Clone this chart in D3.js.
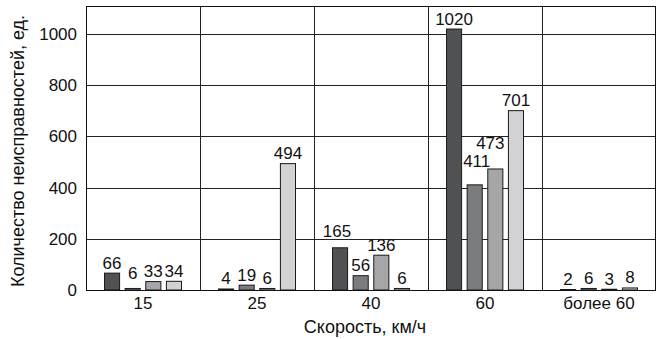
<!DOCTYPE html>
<html><head><meta charset="utf-8">
<script src="https://cdn.jsdelivr.net/npm/d3@7"></script>
<style>html,body{margin:0;padding:0;background:#fff;}svg{display:block;}</style>
</head><body>
<svg id="c" width="660" height="339"></svg>
<script>
const categories = ["15", "25", "40", "60", "более 60"];
const series1 = [66, 4, 165, 1020, 2];
const series2 = [6, 19, 56, 411, 6];
const series3 = [33, 6, 136, 473, 3];
const series4 = [34, 494, 6, 701, 8];
const yTicks = [0, 200, 400, 600, 800, 1000];
const yTitle = "Количество неисправностей, ед.";
const xTitle = "Скорость, км/ч";

const seriesList = [series1, series2, series3, series4];
const colors = ["#505153", "#7b7c7f", "#a5a6a8", "#d1d2d4"];
// manual label nudges (dx, dy) as in the reference: key "cat-series"
const nudges = {"0-1": [0, -5], "2-0": [-3, -6], "3-1": [2, -13], "3-2": [-5, -15]};

const m = {left: 86, right: 656, top: 6, bottom: 290};
const svg = d3.select("#c");
const font = "'Liberation Sans', Arial, sans-serif";
const ink = "#111";

const x0 = d3.scaleBand().domain(categories).range([m.left, m.right]).padding(0);
const x1 = d3.scaleBand().domain(d3.range(4)).range([-39, 39]).paddingInner(0.22);
const y = d3.scaleLinear().domain([0, 1110]).range([m.bottom, m.top]);

// grid
const g = svg.append("g");
g.selectAll("line.h").data(yTicks.filter(d => d > 0)).join("line")
  .attr("x1", m.left).attr("x2", m.right)
  .attr("y1", d => Math.round(y(d)) + 0.5).attr("y2", d => Math.round(y(d)) + 0.5)
  .attr("stroke", "#222").attr("stroke-width", 1);
g.selectAll("line.v").data(categories.slice(1)).join("line")
  .attr("x1", d => Math.round(x0(d)) + 0.5).attr("x2", d => Math.round(x0(d)) + 0.5)
  .attr("y1", m.top).attr("y2", m.bottom)
  .attr("stroke", "#222").attr("stroke-width", 1);
svg.append("rect").attr("x", m.left + 0.5).attr("y", m.top + 0.5)
  .attr("width", m.right - m.left - 1).attr("height", m.bottom - m.top)
  .attr("fill", "none").attr("stroke", "#111").attr("stroke-width", 1);

// bars
const cells = [];
categories.forEach((c, ci) => seriesList.forEach((s, si) => cells.push({c, ci, si, v: s[ci]})));
const cx = d => x0(d.c) + x0.bandwidth() / 2 + x1(d.si);
svg.append("g").selectAll("rect").data(cells).join("rect")
  .attr("x", d => cx(d) + 0.5)
  .attr("y", d => y(d.v))
  .attr("width", x1.bandwidth() - 1)
  .attr("height", d => Math.max(1, y(0) - y(d.v)))
  .attr("fill", d => colors[d.si])
  .attr("stroke", "#1a1a1a").attr("stroke-width", 1);

// labels
svg.append("g").selectAll("text").data(cells).join("text")
  .attr("x", d => cx(d) + x1.bandwidth() / 2 + (nudges[d.ci + "-" + d.si] || [0, 0])[0])
  .attr("y", d => y(d.v) - 4.5 + (nudges[d.ci + "-" + d.si] || [0, 0])[1])
  .attr("text-anchor", "middle")
  .attr("font-family", font).attr("font-size", 17).attr("fill", ink)
  .text(d => d.v);

// y axis labels
const ya = svg.append("g").attr("transform", `translate(${m.left},0)`)
  .call(d3.axisLeft(y).tickValues(yTicks).tickFormat(d3.format("d")).tickSize(0).tickPadding(9));
ya.select(".domain").remove();
ya.selectAll("text").attr("font-family", font).attr("font-size", 17).attr("fill", ink);

// x axis labels
const xa = svg.append("g").attr("transform", `translate(0,${m.bottom})`)
  .call(d3.axisBottom(x0).tickSize(0).tickPadding(7));
xa.select(".domain").remove();
xa.selectAll("text").attr("font-family", font).attr("font-size", 17).attr("fill", ink);

// bottom line
svg.append("line").attr("x1", m.left).attr("x2", m.right)
  .attr("y1", m.bottom + 0.5).attr("y2", m.bottom + 0.5).attr("stroke", "#111");

// titles
svg.append("text").attr("x", 365).attr("y", 333)
  .attr("text-anchor", "middle").attr("font-family", font).attr("font-size", 18).attr("fill", ink)
  .text(xTitle);
svg.append("text").attr("transform", `translate(24,151) rotate(-90)`)
  .attr("text-anchor", "middle").attr("font-family", font).attr("font-size", 18).attr("fill", ink)
  .text(yTitle);
</script>
</body></html>
